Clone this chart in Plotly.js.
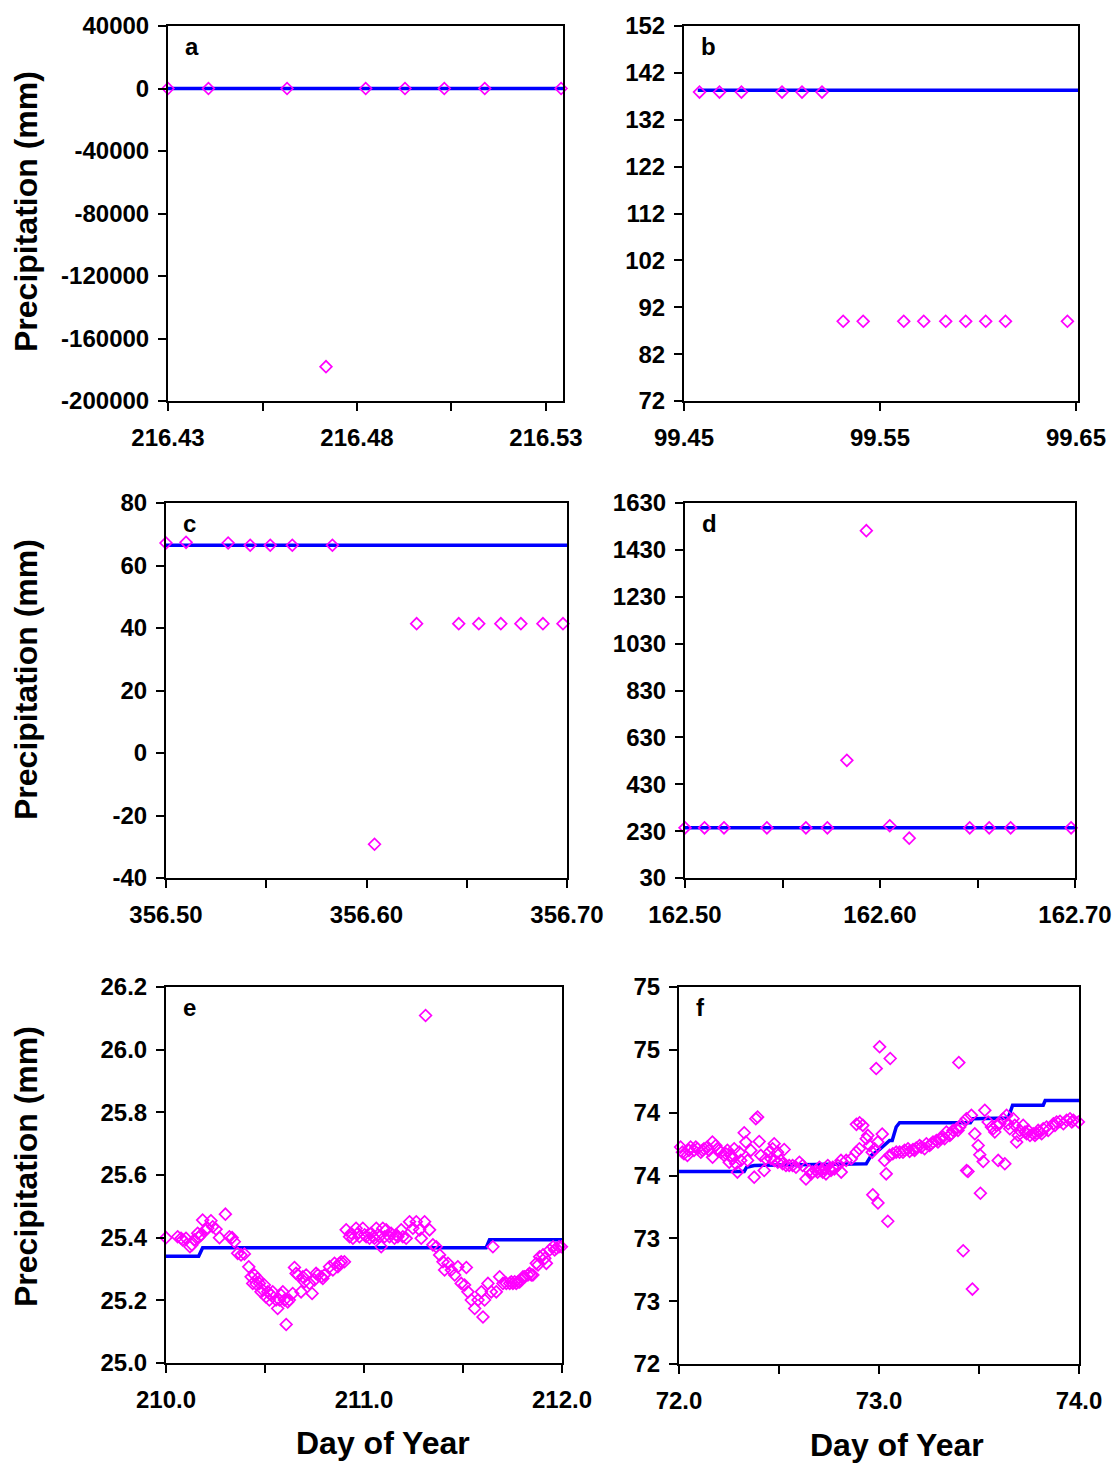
<!DOCTYPE html>
<html>
<head>
<meta charset="utf-8">
<script src="https://cdn.plot.ly/plotly-3.0.1.min.js"></script>
<style>html,body{margin:0;padding:0;background:#fff;}#chart{width:1120px;height:1463px;}</style>
</head>
<body>
<div id="chart"></div>
<script>
// ---------- DATA ----------
// Panel a
const aX = [216.4300, 216.4407, 216.4615, 216.4718, 216.4823, 216.4927, 216.5031, 216.5138, 216.5340];
const aY = [0, 0, 0, -178000, 0, 0, 0, 0, 0];
const aLineX = [216.4300, 216.5345];
const aLineY = [0, 0];
const aYTicks = [-200000, -160000, -120000, -80000, -40000, 0, 40000];
const aYLabels = ["-200000", "-160000", "-120000", "-80000", "-40000", "0", "40000"];
const aXTicks = [216.43, 216.455, 216.48, 216.505, 216.53];
const aXLabels = ["216.43", "", "216.48", "", "216.53"];

// Panel b
const bX = [99.4579, 99.4681, 99.4793, 99.5000, 99.5102, 99.5204, 99.5312, 99.5414, 99.5621, 99.5723, 99.5835, 99.5937, 99.6039, 99.6140, 99.6456];
const bY = [137.9, 137.9, 137.9, 137.9, 137.9, 137.9, 89.0, 89.0, 89.0, 89.0, 89.0, 89.0, 89.0, 89.0, 89.0];
const bLineX = [99.457, 99.651];
const bLineY = [138.3, 138.3];
const bYTicks = [72, 82, 92, 102, 112, 122, 132, 142, 152];
const bXTicks = [99.45, 99.55, 99.65];
const bXLabels = ["99.45", "99.55", "99.65"];

// Panel c
const cX = [356.500, 356.510, 356.531, 356.542, 356.552, 356.563, 356.583, 356.604, 356.625, 356.646, 356.656, 356.667, 356.677, 356.688, 356.698];
const cY = [67.2, 67.4, 67.2, 66.5, 66.5, 66.5, 66.5, -29.2, 41.4, 41.4, 41.4, 41.4, 41.4, 41.4, 41.4];
const cLineX = [356.5, 356.7];
const cLineY = [66.5, 66.5];
const cYTicks = [-40, -20, 0, 20, 40, 60, 80];
const cYLabels = ["-40", "-20", "0", "20", "40", "60", "80"];
const cXTicks = [356.50, 356.55, 356.60, 356.65, 356.70];
const cXLabels = ["356.50", "", "356.60", "", "356.70"];

// Panel d
const dX = [162.500, 162.510, 162.520, 162.542, 162.562, 162.573, 162.583, 162.593, 162.605, 162.615, 162.646, 162.656, 162.667, 162.698];
const dY = [244, 244, 244, 244, 244, 244, 532, 1512, 253, 200, 244, 244, 244, 244];
const dLineX = [162.5, 162.7];
const dLineY = [244, 244];
const dYTicks = [30, 230, 430, 630, 830, 1030, 1230, 1430, 1630];
const dXTicks = [162.50, 162.55, 162.60, 162.65, 162.70];
const dXLabels = ["162.50", "", "162.60", "", "162.70"];

// Panel e
const eX = [210.000, 210.059, 210.076, 210.084, 210.101, 210.121, 210.131, 210.143, 210.160, 210.165, 210.177, 210.185, 210.199, 210.211, 210.227, 210.236, 210.253, 210.270, 210.300, 210.320, 210.334, 210.345, 210.362, 210.379, 210.396, 210.418, 210.430, 210.438, 210.447, 210.455, 210.463, 210.472, 210.480, 210.489, 210.497, 210.505, 210.514, 210.522, 210.531, 210.539, 210.556, 210.564, 210.573, 210.581, 210.590, 210.598, 210.607, 210.615, 210.623, 210.640, 210.649, 210.657, 210.666, 210.682, 210.691, 210.699, 210.708, 210.725, 210.738, 210.750, 210.758, 210.767, 210.784, 210.792, 210.800, 210.826, 210.843, 210.851, 210.868, 210.876, 210.885, 210.901, 210.910, 210.927, 210.935, 210.944, 210.960, 210.969, 210.977, 210.994, 211.003, 211.011, 211.028, 211.036, 211.045, 211.053, 211.062, 211.070, 211.078, 211.087, 211.095, 211.104, 211.112, 211.129, 211.137, 211.154, 211.163, 211.171, 211.188, 211.196, 211.213, 211.230, 211.247, 211.264, 211.281, 211.289, 211.306, 211.311, 211.331, 211.348, 211.365, 211.382, 211.399, 211.407, 211.424, 211.441, 211.458, 211.474, 211.491, 211.508, 211.517, 211.525, 211.542, 211.559, 211.576, 211.593, 211.601, 211.609, 211.626, 211.643, 211.651, 211.668, 211.685, 211.702, 211.719, 211.736, 211.744, 211.752, 211.761, 211.769, 211.778, 211.786, 211.795, 211.803, 211.811, 211.828, 211.836, 211.845, 211.853, 211.870, 211.879, 211.887, 211.904, 211.913, 211.921, 211.938, 211.955, 211.963, 211.972, 211.985, 211.997, 212.014];
const eY = [25.400, 25.403, 25.398, 25.393, 25.398, 25.371, 25.377, 25.393, 25.414, 25.401, 25.409, 25.456, 25.425, 25.430, 25.454, 25.435, 25.427, 25.400, 25.475, 25.403, 25.400, 25.387, 25.350, 25.345, 25.348, 25.307, 25.275, 25.254, 25.281, 25.252, 25.270, 25.254, 25.227, 25.233, 25.249, 25.211, 25.227, 25.201, 25.217, 25.227, 25.201, 25.174, 25.201, 25.217, 25.227, 25.201, 25.123, 25.195, 25.201, 25.222, 25.305, 25.286, 25.281, 25.227, 25.275, 25.259, 25.281, 25.254, 25.222, 25.265, 25.286, 25.281, 25.275, 25.270, 25.281, 25.307, 25.297, 25.318, 25.307, 25.318, 25.323, 25.323, 25.425, 25.403, 25.414, 25.398, 25.430, 25.414, 25.403, 25.430, 25.409, 25.403, 25.398, 25.414, 25.403, 25.398, 25.430, 25.409, 25.403, 25.371, 25.430, 25.403, 25.425, 25.403, 25.414, 25.398, 25.409, 25.403, 25.425, 25.403, 25.398, 25.451, 25.430, 25.451, 25.425, 25.398, 25.451, 26.109, 25.425, 25.377, 25.371, 25.345, 25.323, 25.297, 25.318, 25.297, 25.281, 25.307, 25.254, 25.249, 25.305, 25.227, 25.201, 25.174, 25.201, 25.227, 25.147, 25.201, 25.254, 25.227, 25.371, 25.227, 25.275, 25.254, 25.254, 25.254, 25.259, 25.254, 25.259, 25.254, 25.259, 25.259, 25.265, 25.275, 25.275, 25.281, 25.286, 25.281, 25.281, 25.318, 25.313, 25.339, 25.345, 25.334, 25.318, 25.361, 25.371, 25.361, 25.366, 25.371, 25.371, 25.371];
const eLineX = [210.000, 210.165, 210.185, 211.617, 211.634, 212.000];
const eLineY = [25.341, 25.341, 25.368, 25.368, 25.393, 25.393];
const eYTicks = [25.0, 25.2, 25.4, 25.6, 25.8, 26.0, 26.2];
const eYLabels = ["25.0", "25.2", "25.4", "25.6", "25.8", "26.0", "26.2"];
const eXTicks = [210.0, 210.5, 211.0, 211.5, 212.0];
const eXLabels = ["210.0", "", "211.0", "", "212.0"];

// Panel f
const fX = [71.995, 72.008, 72.017, 72.025, 72.042, 72.050, 72.058, 72.075, 72.084, 72.092, 72.109, 72.117, 72.125, 72.142, 72.150, 72.167, 72.168, 72.184, 72.192, 72.200, 72.209, 72.226, 72.234, 72.242, 72.251, 72.259, 72.267, 72.276, 72.284, 72.292, 72.301, 72.309, 72.326, 72.334, 72.343, 72.359, 72.376, 72.384, 72.393, 72.401, 72.409, 72.426, 72.434, 72.451, 72.460, 72.468, 72.476, 72.477, 72.493, 72.494, 72.510, 72.518, 72.526, 72.535, 72.551, 72.568, 72.585, 72.602, 72.618, 72.635, 72.652, 72.660, 72.668, 72.685, 72.693, 72.702, 72.710, 72.719, 72.727, 72.735, 72.744, 72.752, 72.760, 72.769, 72.777, 72.794, 72.810, 72.811, 72.836, 72.861, 72.886, 72.887, 72.902, 72.903, 72.919, 72.936, 72.944, 72.952, 72.966, 72.969, 72.978, 72.986, 72.994, 72.995, 73.003, 73.016, 73.028, 73.036, 73.044, 73.053, 73.056, 73.069, 73.086, 73.103, 73.120, 73.128, 73.145, 73.153, 73.170, 73.178, 73.186, 73.203, 73.211, 73.228, 73.237, 73.253, 73.262, 73.270, 73.287, 73.295, 73.303, 73.320, 73.328, 73.337, 73.354, 73.362, 73.370, 73.387, 73.395, 73.399, 73.404, 73.420, 73.421, 73.437, 73.438, 73.445, 73.462, 73.467, 73.479, 73.496, 73.504, 73.507, 73.521, 73.529, 73.546, 73.562, 73.571, 73.579, 73.588, 73.596, 73.604, 73.621, 73.629, 73.638, 73.646, 73.654, 73.671, 73.679, 73.688, 73.696, 73.704, 73.721, 73.730, 73.738, 73.746, 73.755, 73.771, 73.780, 73.788, 73.796, 73.805, 73.813, 73.821, 73.838, 73.846, 73.872, 73.880, 73.888, 73.905, 73.922, 73.938, 73.955, 73.964, 73.972, 73.997];
const fY = [73.700, 73.726, 73.686, 73.673, 73.660, 73.700, 73.726, 73.700, 73.726, 73.713, 73.686, 73.700, 73.713, 73.726, 73.700, 73.766, 73.646, 73.739, 73.713, 73.700, 73.686, 73.660, 73.673, 73.700, 73.606, 73.660, 73.633, 73.713, 73.593, 73.527, 73.686, 73.620, 73.840, 73.766, 73.620, 73.700, 73.487, 73.952, 73.965, 73.771, 73.660, 73.540, 73.633, 73.686, 73.633, 73.713, 73.753, 73.620, 73.686, 73.606, 73.620, 73.593, 73.707, 73.580, 73.580, 73.580, 73.566, 73.606, 73.580, 73.473, 73.540, 73.513, 73.527, 73.540, 73.527, 73.566, 73.540, 73.527, 73.553, 73.513, 73.580, 73.553, 73.540, 73.566, 73.553, 73.580, 73.620, 73.527, 73.620, 73.633, 73.686, 73.907, 73.713, 73.920, 73.899, 73.793, 73.819, 73.739, 73.686, 73.346, 73.713, 74.351, 73.766, 73.282, 74.524, 73.830, 73.620, 73.513, 73.136, 73.660, 74.431, 73.673, 73.686, 73.686, 73.686, 73.700, 73.713, 73.692, 73.707, 73.700, 73.718, 73.739, 73.726, 73.713, 73.753, 73.739, 73.753, 73.766, 73.779, 73.766, 73.793, 73.806, 73.793, 73.846, 73.819, 73.832, 73.859, 73.872, 73.859, 74.399, 73.886, 73.920, 72.901, 73.952, 73.540, 73.532, 73.979, 72.596, 73.832, 73.739, 73.665, 73.359, 73.612, 74.019, 73.926, 73.886, 73.872, 73.846, 73.899, 73.620, 73.912, 73.952, 73.593, 73.979, 73.912, 73.872, 73.952, 73.899, 73.766, 73.819, 73.859, 73.899, 73.846, 73.832, 73.859, 73.819, 73.832, 73.819, 73.832, 73.859, 73.846, 73.832, 73.872, 73.886, 73.859, 73.912, 73.899, 73.926, 73.931, 73.912, 73.939, 73.952, 73.926, 73.939, 73.926];
const fLineX = [72.000, 72.326, 72.338, 72.376, 72.601, 72.936, 72.961, 73.003, 73.053, 73.066, 73.086, 73.103, 73.457, 73.470, 73.646, 73.668, 73.821, 73.831, 74.000];
const fLineY = [73.532, 73.532, 73.566, 73.580, 73.585, 73.593, 73.660, 73.707, 73.779, 73.779, 73.886, 73.920, 73.920, 73.952, 73.957, 74.059, 74.059, 74.096, 74.096];
const fYTicks = [72.0, 72.5, 73.0, 73.5, 74.0, 74.5, 75.0];
const fYLabels = ["72", "73", "73", "74", "74", "75", "75"];
const fXTicks = [72.0, 72.5, 73.0, 73.5, 74.0];
const fXLabels = ["72.0", "", "73.0", "", "74.0"];

const panelLetters = ["a", "b", "c", "d", "e", "f"];
const yTitle = "Precipitation (mm)";
const xTitle = "Day of Year";

// ---------- LAYOUT ----------
const W = 1120, H = 1463;
const FONT = "Liberation Sans, Arial, Helvetica, sans-serif";
const MAGENTA = "#FF00FF", BLUE = "#0000FF";
// plot boxes in pixels: [left, right, top, bottom]
const boxes = [
  [168, 563, 26, 401],
  [684, 1078, 26, 401],
  [166, 567, 503, 878],
  [685, 1075, 503, 878],
  [166, 562, 987, 1363],
  [679, 1079, 987, 1364]
];
const panels = [
  {x: aX, y: aY, lx: aLineX, ly: aLineY, xr: [216.43, 216.5345], yr: [-200000, 40000], xt: aXTicks, xl: aXLabels, yt: aYTicks, yl: aYLabels},
  {x: bX, y: bY, lx: bLineX, ly: bLineY, xr: [99.45, 99.651], yr: [72, 152], xt: bXTicks, xl: bXLabels, yt: bYTicks, yl: bYTicks.map(String)},
  {x: cX, y: cY, lx: cLineX, ly: cLineY, xr: [356.5, 356.7], yr: [-40, 80], xt: cXTicks, xl: cXLabels, yt: cYTicks, yl: cYLabels},
  {x: dX, y: dY, lx: dLineX, ly: dLineY, xr: [162.5, 162.7], yr: [30, 1630], xt: dXTicks, xl: dXLabels, yt: dYTicks, yl: dYTicks.map(String)},
  {x: eX, y: eY, lx: eLineX, ly: eLineY, xr: [210, 212], yr: [25.0, 26.2], xt: eXTicks, xl: eXLabels, yt: eYTicks, yl: eYLabels},
  {x: fX, y: fY, lx: fLineX, ly: fLineY, xr: [72, 74], yr: [72, 75], xt: fXTicks, xl: fXLabels, yt: fYTicks, yl: fYLabels}
];

const traces = [];
const layout = {
  width: W, height: H,
  margin: {l: 0, r: 0, t: 0, b: 0},
  paper_bgcolor: "#fff", plot_bgcolor: "#fff",
  showlegend: false,
  annotations: []
};
const tickFont = {family: FONT, size: 24, weight: "bold", color: "#000"};

panels.forEach((p, i) => {
  const n = i + 1;
  const xa = "x" + (n === 1 ? "" : n), ya = "y" + (n === 1 ? "" : n);
  traces.push({x: p.lx, y: p.ly, xaxis: xa, yaxis: ya, mode: "lines", type: "scatter",
    line: {color: BLUE, width: 3.5}, hoverinfo: "skip", cliponaxis: false});
  traces.push({x: p.x, y: p.y, xaxis: xa, yaxis: ya, mode: "markers", type: "scatter",
    marker: {symbol: "diamond-open", size: 9, color: MAGENTA, line: {color: MAGENTA, width: 1.7}},
    cliponaxis: false});
  const b = boxes[i];
  const common = {showline: true, linecolor: "#000", linewidth: 2, mirror: true, ticks: "outside",
    ticklen: 8, tickwidth: 2, tickcolor: "#000", showgrid: false, zeroline: false,
    tickfont: tickFont, tickmode: "array", fixedrange: true};
  layout["xaxis" + (n === 1 ? "" : n)] = Object.assign({}, common, {
    domain: [b[0] / W, b[1] / W], range: p.xr, anchor: ya,
    tickvals: p.xt, ticktext: p.xl, ticklabelstandoff: 6});
  layout["yaxis" + (n === 1 ? "" : n)] = Object.assign({}, common, {
    domain: [1 - b[3] / H, 1 - b[2] / H], range: p.yr, anchor: xa,
    tickvals: p.yt, ticktext: p.yl, ticklabelstandoff: 4});
  layout.annotations.push({text: panelLetters[i], xref: "paper", yref: "paper",
    x: (b[0] + 15) / W, y: 1 - (b[2] + 5) / H, xanchor: "left", yanchor: "top", showarrow: false,
    font: {family: FONT, size: 24, weight: "bold", color: "#000"}});
});

// y-axis titles (one per row)
[[26, 212], [26, 680], [26, 1167]].forEach(pos => {
  layout.annotations.push({text: yTitle, xref: "paper", yref: "paper", x: pos[0] / W, y: 1 - pos[1] / H,
    xanchor: "center", yanchor: "middle", textangle: -90, showarrow: false,
    font: {family: FONT, size: 32, weight: "bold", color: "#000"}});
});
// x-axis titles (bottom row)
[[383, 1443], [897, 1445]].forEach(pos => {
  layout.annotations.push({text: xTitle, xref: "paper", yref: "paper", x: pos[0] / W, y: 1 - pos[1] / H,
    xanchor: "center", yanchor: "middle", showarrow: false,
    font: {family: FONT, size: 32, weight: "bold", color: "#000"}});
});

Plotly.newPlot("chart", traces, layout, {staticPlot: true, displayModeBar: false});
</script>
</body>
</html>
